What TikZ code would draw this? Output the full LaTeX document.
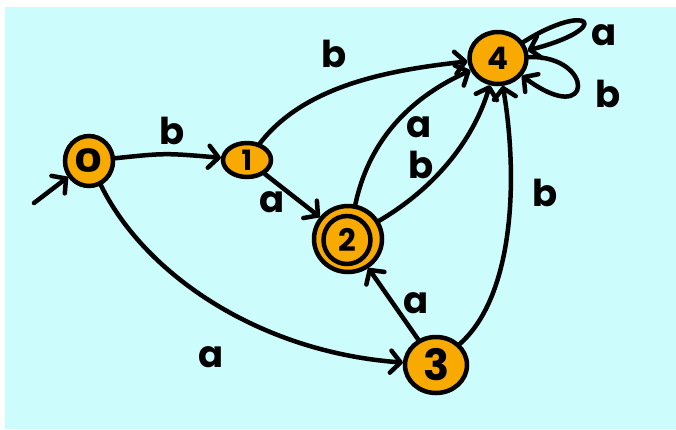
\documentclass[tikz,border=0pt]{standalone}
\usepackage{graphicx}
\usepackage{fontspec}
\setmainfont{Poppins}
\usetikzlibrary{arrows.meta,shapes.geometric}
\definecolor{bgcyan}{HTML}{CCFCFC}
\definecolor{stateorange}{HTML}{F8AA00}
\tikzset{
  state/.style={ellipse, draw=black, line width=4.5pt, fill=stateorange, inner sep=0pt,
    font=\fontsize{31}{33}\selectfont\bfseries},
  edge/.style={line width=4.5pt, line cap=round, line join=round,
    -{Straight Barb[length=10pt,width=22pt,line cap=round,line join=round]}},
  lbl/.style={font=\fontsize{37}{39}\selectfont\bfseries, inner sep=0pt}
}
\begin{document}
\begin{tikzpicture}[x=1pt,y=-1pt]
\useasboundingbox (0,0) rectangle (676,429);
\fill[white] (0,0) rectangle (676,429);
\fill[bgcyan] (5,7) rectangle (676,429);

% states
\node[state, minimum width=48pt, minimum height=50pt, font=\fontsize{32}{34}\selectfont\bfseries] (n0) at (89,161) {\scalebox{1.35}[1]{0}};
\node[state, minimum width=48pt, minimum height=34pt, font=\fontsize{28}{30}\selectfont\bfseries] (n1) at (247,160) {1};
\node[state, minimum width=68pt, minimum height=66pt] (n2) at (348,239) {};
\node[state, minimum width=47pt, minimum height=48pt] (n2in) at (347,240) {2};
\node[state, minimum width=62pt, minimum height=56pt, font=\fontsize{43}{45}\selectfont\bfseries] (n3) at (436,365) {3};
\node[state, minimum width=57pt, minimum height=52pt] (n4) at (498,58) {4};

% initial arrow
\coordinate (init) at (34,203);
\draw[edge] (init) -- (n0);

% transitions
\draw[edge] (n0) .. controls (165,153) .. (n1);
\node[lbl] (l01) at (172,131) {b};

\draw[edge] (n1) -- (n2);
\node[lbl] (l12) at (272,202) {a};

\draw[edge] (n1) .. controls (305,85) and (390,70) .. (n4);
\node[lbl] (l14) at (334,54) {b};

\draw[edge] (n2) .. controls (368,145) and (405,100) .. (n4);
\node[lbl] (l24a) at (419,127) {a};

\draw[edge] (n2) .. controls (440,185) and (475,135) .. (n4);
\node[lbl] (l24b) at (421,165) {b};

\draw[edge] (n3) .. controls (515,295) and (518,175) .. (n4);
\node[lbl] (l34) at (545,193) {b};

\draw[edge] (n3) -- (n2);
\node[lbl] (l32) at (416,303) {a};

\draw[edge] (n0) .. controls (145,275) and (260,352) .. (n3);
\node[lbl] (l03) at (211,357) {a};

% self loops
\draw[edge] (n4) .. controls (590,0) and (615,28) .. (n4);
\node[lbl] (l44a) at (604,35) {a};
\draw[edge] (n4) .. controls (595,55) and (595,130) .. (n4);
\node[lbl] (l44b) at (608,94) {b};
\end{tikzpicture}
\end{document}
